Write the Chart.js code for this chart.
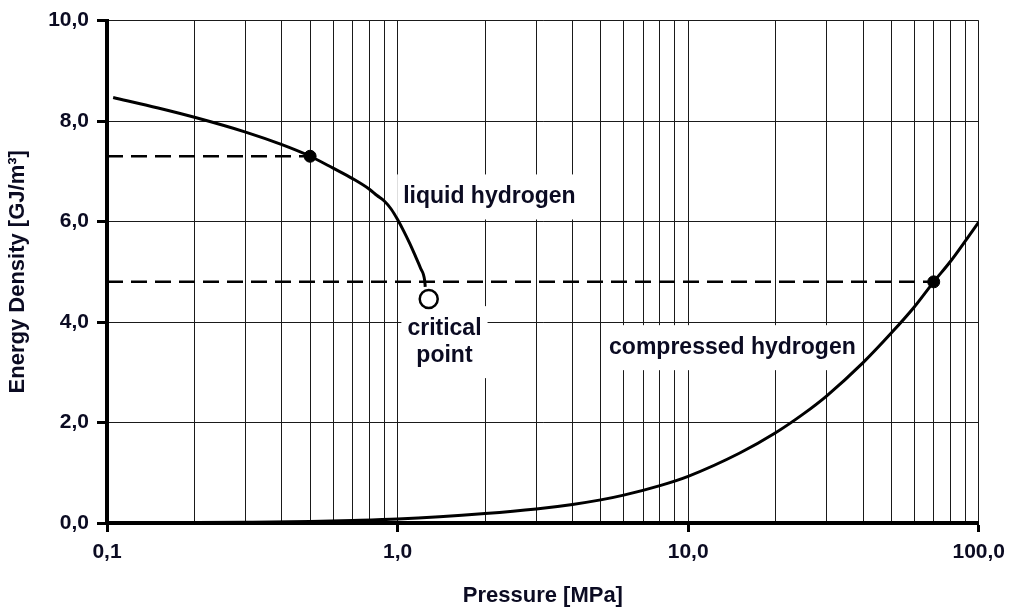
<!DOCTYPE html>
<html>
<head>
<meta charset="utf-8">
<script src="https://cdn.jsdelivr.net/npm/chart.js@4/dist/chart.umd.min.js"></script>
<style>
  html, body { margin: 0; padding: 0; background: #fff; }
  #wrap { width: 1013px; height: 610px; }
</style>
</head>
<body>
<div id="wrap"><canvas id="densityChart"></canvas></div>
<script>
// liquid hydrogen curve (pressure MPa, energy density GJ/m3)
const liquidP = [0.105, 0.15, 0.2, 0.3, 0.4, 0.5, 0.6, 0.7, 0.8, 0.85, 0.9, 0.95, 1.0, 1.05, 1.1, 1.15, 1.2, 1.24, 1.245];
const liquidE = [8.47, 8.26, 8.075, 7.78, 7.53, 7.3, 7.063, 6.855, 6.644, 6.518, 6.41, 6.25, 6.04, 5.81, 5.57, 5.32, 5.07, 4.82, 4.70];

// compressed hydrogen curve
const compP = [0.1, 0.2, 0.3, 0.5, 0.7, 1, 2, 3, 4, 5, 6, 8, 10, 15, 20, 25, 30, 40, 50, 60, 70, 80, 90, 100];
const compE = [0.0, 0.008, 0.015, 0.03, 0.05, 0.08, 0.19, 0.28, 0.37, 0.46, 0.555, 0.745, 0.93, 1.389, 1.797, 2.177, 2.532, 3.192, 3.78, 4.30, 4.8, 5.21, 5.617, 5.99];

// marked points and reference dashes
const markP = [0.5, 70];
const markE = [7.3, 4.8];
const criticalP = 1.28;
const criticalE = 4.46;

// axis ticks
const xDecades = [0.1, 1, 10, 100];
const xTickLabels = ["0,1", "1,0", "10,0", "100,0"];
const yTicks = [0, 2, 4, 6, 8, 10];
const yTickLabels = ["0,0", "2,0", "4,0", "6,0", "8,0", "10,0"];

// text labels inside the plot
const noteLines = [["liquid hydrogen"], ["critical", "point"], ["compressed hydrogen"]];
const noteP = [2.07, 1.45, 14.2];
const noteE = [6.49, 3.6, 3.49];

const ink = "#0b0b22";
const fontFamily = "'Liberation Sans', Arial, sans-serif";
const pts = (xs, ys) => xs.map((x, i) => ({ x: x, y: ys[i] }));

const isDecade = v => xDecades.some(d => Math.abs(v - d) < d * 1e-6);

const notesPlugin = {
    id: "notes",
    beforeDatasetsDraw(chart) {
        const ctx = chart.ctx;
        const xs = chart.scales.x, ys = chart.scales.y;
        ctx.save();
        ctx.font = "bold 23px " + fontFamily;
        ctx.textAlign = "center";
        ctx.textBaseline = "middle";
        const lh = 27;
        noteLines.forEach((lines, i) => {
            const cx = xs.getPixelForValue(noteP[i]);
            const cy = ys.getPixelForValue(noteE[i]);
            const w = Math.max(...lines.map(l => ctx.measureText(l).width));
            const h = lines.length * lh;
            ctx.fillStyle = "#fff";
            ctx.fillRect(cx - w / 2 - 6, cy - h / 2 - 9, w + 12, h + 18);
            ctx.fillStyle = ink;
            lines.forEach((l, k) => {
                ctx.fillText(l, cx, cy - h / 2 + lh / 2 + k * lh);
            });
        });
        ctx.restore();
    }
};

const ctx = document.getElementById("densityChart").getContext("2d");
new Chart(ctx, {
    type: "line",
    data: {
        datasets: [
            {
                data: [{ x: criticalP, y: criticalE }],
                pointRadius: 9,
                pointBackgroundColor: "#fff",
                pointBorderColor: "#000",
                pointBorderWidth: 2.5,
                showLine: false,
                clip: false
            },
            {
                data: pts(markP, markE),
                pointRadius: 6,
                pointBackgroundColor: "#000",
                pointBorderColor: "#000",
                showLine: false,
                clip: false
            },
            {
                data: pts(liquidP, liquidE),
                borderColor: "#000",
                borderWidth: 3,
                pointRadius: 0,
                cubicInterpolationMode: "monotone"
            },
            {
                data: pts(compP, compE),
                borderColor: "#000",
                borderWidth: 3,
                pointRadius: 0,
                cubicInterpolationMode: "monotone"
            },
            {
                data: [{ x: xDecades[0], y: markE[0] }, { x: markP[0], y: markE[0] }],
                borderColor: "#000",
                borderWidth: 2.5,
                borderDash: [16, 8],
                pointRadius: 0
            },
            {
                data: [{ x: xDecades[0], y: markE[1] }, { x: markP[1], y: markE[1] }],
                borderColor: "#000",
                borderWidth: 2.5,
                borderDash: [16, 8],
                pointRadius: 0
            }
        ]
    },
    options: {
        responsive: true,
        maintainAspectRatio: false,
        animation: false,
        events: [],
        layout: { padding: { top: 19, right: 33, left: 0, bottom: 0 } },
        plugins: {
            legend: { display: false },
            tooltip: { enabled: false }
        },
        scales: {
            x: {
                type: "logarithmic",
                min: 0.1,
                max: 100,
                afterBuildTicks(scale) {
                    const vals = [];
                    xDecades.forEach((d, i) => {
                        if (i === xDecades.length - 1) { vals.push(d); return; }
                        for (let m = 1; m <= 9; m++) vals.push(Number((d * m).toPrecision(6)));
                    });
                    scale.ticks = vals.map(v => ({ value: v, major: isDecade(v) }));
                },
                afterFit(scale) { scale.height = 87; },
                border: { color: "#000", width: 4 },
                grid: {
                    color: "#1a1a1a",
                    lineWidth: 1,
                    tickLength: 9,
                    tickColor: c => (c.tick && isDecade(c.tick.value)) ? "#000" : "rgba(0,0,0,0)",
                    tickWidth: 3
                },
                ticks: {
                    autoSkip: false,
                    maxRotation: 0,
                    padding: 8,
                    color: ink,
                    font: { family: fontFamily, size: 21, weight: "bold" },
                    callback: v => {
                        const i = xDecades.findIndex(d => Math.abs(v - d) < d * 1e-6);
                        return i >= 0 ? xTickLabels[i] : "";
                    }
                },
                title: {
                    display: true,
                    text: "Pressure [MPa]",
                    color: ink,
                    font: { family: fontFamily, size: 22, weight: "bold" },
                    padding: { top: 0, bottom: 1 }
                }
            },
            y: {
                min: 0,
                max: 10,
                afterBuildTicks(scale) {
                    scale.ticks = yTicks.map(v => ({ value: v }));
                },
                afterFit(scale) { scale.width = 107; },
                border: { color: "#000", width: 4 },
                grid: {
                    color: "#1a1a1a",
                    lineWidth: 1,
                    tickLength: 10,
                    tickColor: "#000",
                    tickWidth: 3
                },
                ticks: {
                    padding: 8,
                    color: ink,
                    font: { family: fontFamily, size: 21, weight: "bold" },
                    callback: v => {
                        const i = yTicks.indexOf(v);
                        return i >= 0 ? yTickLabels[i] : "";
                    }
                },
                title: {
                    display: true,
                    text: "Energy Density [GJ/m³]",
                    color: ink,
                    font: { family: fontFamily, size: 22, weight: "bold" },
                    padding: { top: 5, bottom: 0 }
                }
            }
        }
    },
    plugins: [notesPlugin]
});
</script>
</body>
</html>
